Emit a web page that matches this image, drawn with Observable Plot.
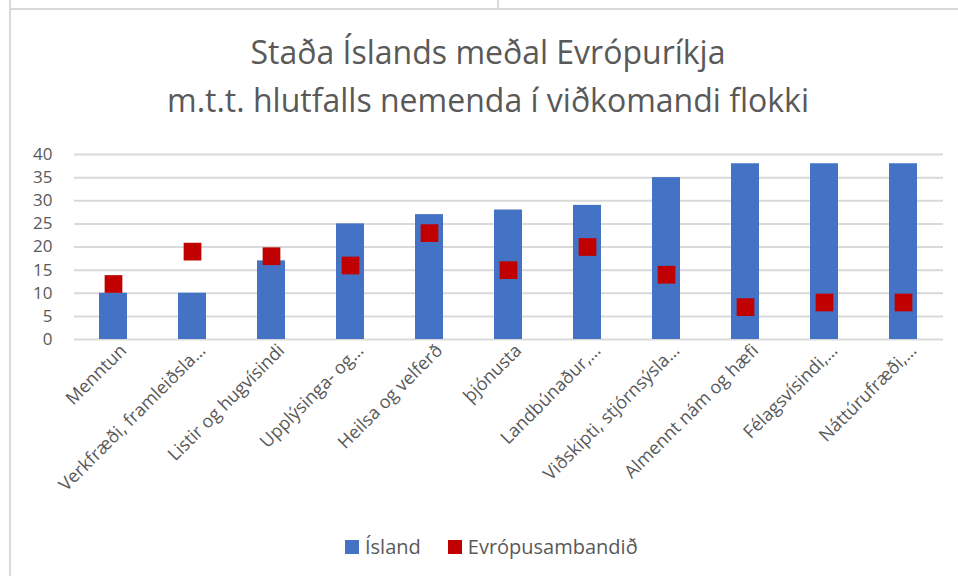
<!DOCTYPE html>
<html><head><meta charset="utf-8">
<script src="https://cdn.jsdelivr.net/npm/d3@7"></script>
<script src="https://cdn.jsdelivr.net/npm/@observablehq/plot@0.6"></script>
<style>
html,body{margin:0;padding:0;background:#fff;}
body{width:958px;height:576px;overflow:hidden;position:relative;font-family:"Open Sans",sans-serif;color:#595959;}
.line{position:absolute;background:#d9d9d9;}
#title{position:absolute;left:18px;right:0;top:28px;text-align:center;font-size:32px;line-height:48px;font-weight:400;color:#595959;}
#chart{position:absolute;left:0;top:130px;}
#legend{position:absolute;left:345px;top:533px;display:flex;align-items:center;font-size:20px;color:#595959;white-space:nowrap;}
#legend .sw{width:14px;height:14px;display:inline-block;margin-right:6px;}
#legend .item{display:flex;align-items:center;margin-right:27px;}
</style></head><body>
<div class="line" style="left:9px;top:0;width:2px;height:576px;"></div>
<div class="line" style="left:10px;top:8px;width:948px;height:2px;"></div>
<div class="line" style="left:497px;top:0;width:2px;height:9px;"></div>
<div id="title">Staða Íslands meðal Evrópuríkja<br>m.t.t. hlutfalls nemenda í viðkomandi flokki</div>
<div id="chart"></div>
<div id="legend"></div>
<script>
const categories = ["Menntun","Verkfræði, framleiðsla…","Listir og hugvísindi","Upplýsinga- og…","Heilsa og velferð","þjónusta","Landbúnaður,…","Viðskipti, stjórnsýsla…","Almennt nám og hæfi","Félagsvísindi,…","Náttúrufræði,…"];
const island = [10,10,17,25,27,28,29,35,38,38,38];
const evropusambandid = [12,19,18,16,23,15,20,14,7,8,8];
const yTicks = [0,5,10,15,20,25,30,35,40];
const seriesNames = ["Ísland","Evrópusambandið"];
const seriesColors = ["#4472C4","#C00000"];

const data = categories.map((c,i)=>({category:c, island:island[i], eu:evropusambandid[i]}));

const chart = Plot.plot({
  width: 958, height: 389,
  marginLeft: 74, marginRight: 15, marginTop: 24, marginBottom: 180,
  style: {fontFamily: "Open Sans, sans-serif", color: "#595959", background: "transparent"},
  x: {domain: categories, paddingInner: 0.645, paddingOuter: 0.3225, label: null},
  y: {domain: [0,40], label: null},
  marks: [
    Plot.gridY(yTicks, {stroke: "#d9d9d9", strokeOpacity: 1, strokeWidth: 2}),
    Plot.barY(data, {x: "category", y: "island", fill: seriesColors[0]}),
    Plot.dot(data, {x: "category", y: "eu", symbol: "square", r: 10, fill: seriesColors[1], stroke: "none"}),
    Plot.axisY(yTicks, {tickSize: 0, tickPadding: 22, fontSize: 17, label: null}),
    Plot.axisX({tickSize: 0, tickRotate: -45, tickPadding: 8, dx: 10, fontSize: 18, label: null})
  ]
});
document.getElementById("chart").appendChild(chart);

const legend = document.getElementById("legend");
seriesNames.forEach((n,i)=>{
  const item = document.createElement("span");
  item.className = "item";
  const sw = document.createElement("span");
  sw.className = "sw";
  sw.style.background = seriesColors[i];
  item.appendChild(sw);
  item.appendChild(document.createTextNode(n));
  legend.appendChild(item);
});
</script>
</body></html>
